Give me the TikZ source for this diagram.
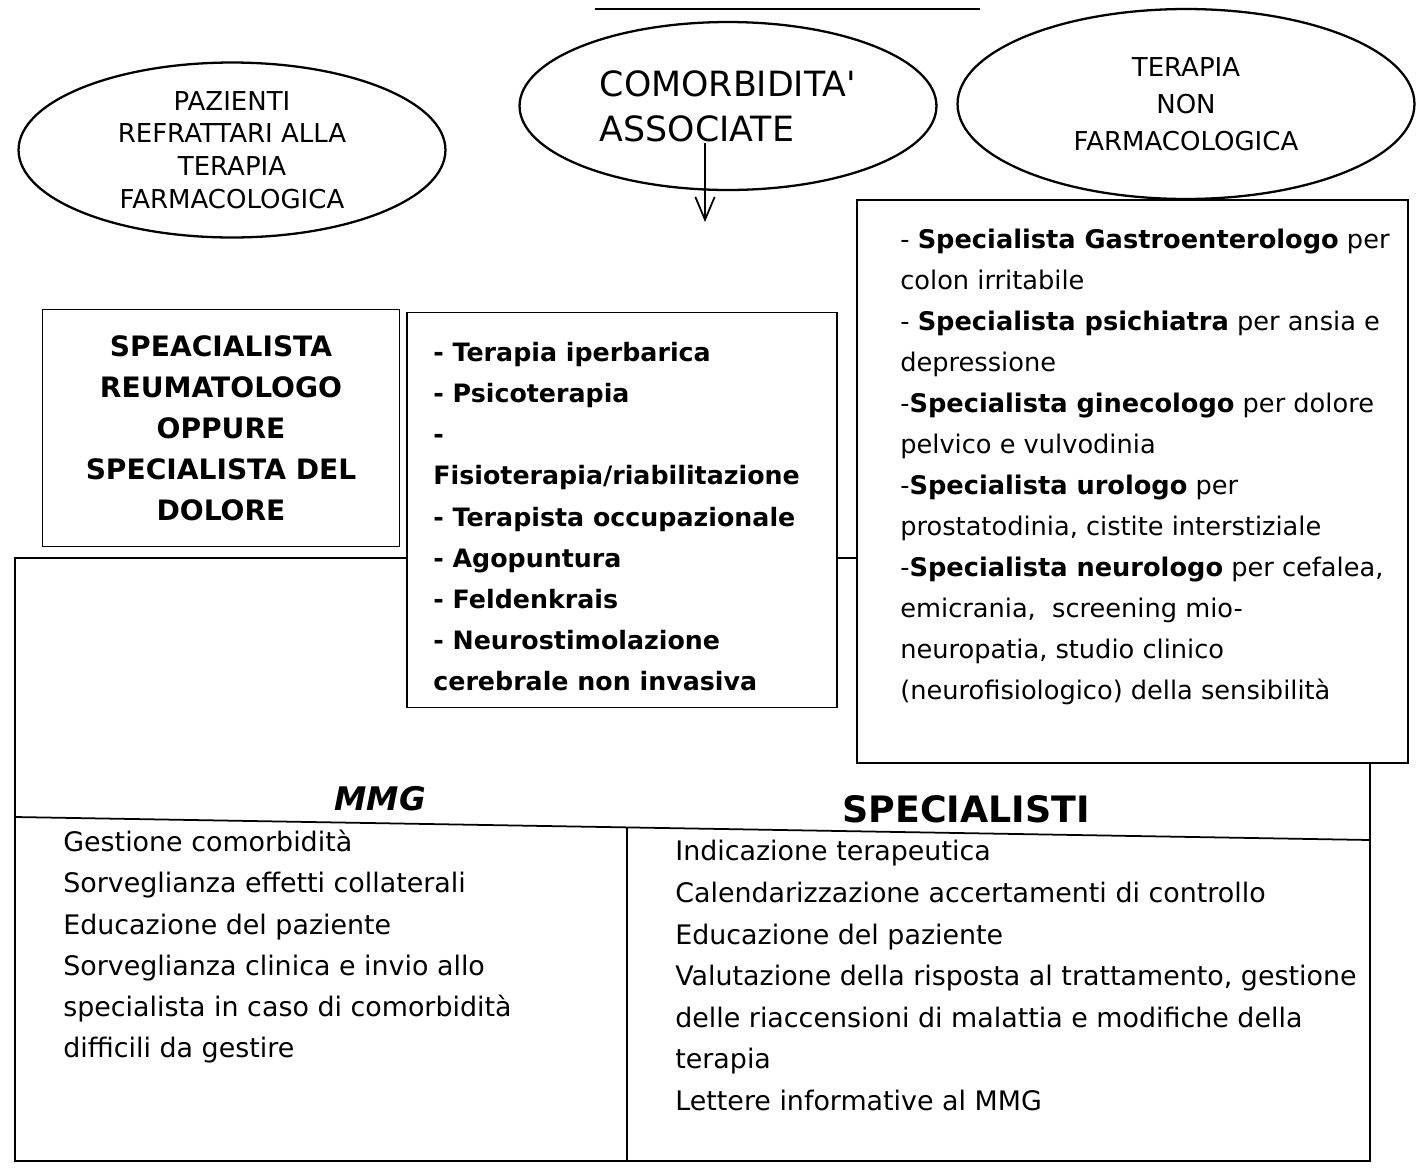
\documentclass[tikz,border=0pt]{standalone}
\usepackage{fontspec}
\setmainfont[Ligatures=TeXOff]{DejaVu Sans}
\usetikzlibrary{shapes.geometric,arrows.meta}

\begin{document}
\begin{tikzpicture}[x=0.02cm,y=-0.02cm,
  bubble/.style={draw,ellipse,line width=1.3pt,inner sep=0pt,align=center},
  box/.style={draw,line width=1pt,fill=white,inner sep=0pt},
  list/.style={align=left,anchor=north west,inner sep=0pt,
    font=\fontsize{15.3}{23.4}\selectfont}]
\useasboundingbox (0,0) rectangle (1420,1167);
\draw[line width=1.6pt] (595,9) -- (980,9);
% bottom frame first, the boxes sit on it
\node[draw,line width=1pt,minimum width=27.1cm,minimum height=12.06cm] (frame) at (692.5,859.5) {};
\draw[line width=1pt] (15,817) -- (1370,840);
\draw[line width=1pt] (627,828) -- (627,1161);
\node[font=\bfseries\itshape\fontsize{18.5}{24}\selectfont] (mmg) at (380,799) {MMG};
\node[font=\bfseries\fontsize{20.7}{24}\selectfont] (spec) at (966,809) {SPECIALISTI};
\node[list] (mmgtxt) at (63,830) {Gestione comorbidità\\
  Sorveglianza effetti collaterali\\
  Educazione del paziente\\
  Sorveglianza clinica e invio allo\\
  specialista in caso di comorbidità\\
  difficili da gestire};
\node[list,font=\fontsize{15.3}{23.7}\selectfont] (spectxt) at (675,840) {Indicazione terapeutica\\
  Calendarizzazione accertamenti di controllo\\
  Educazione del paziente\\
  Valutazione della risposta al trattamento, gestione\\
  delle riaccensioni di malattia e modifiche della\\
  terapia\\
  Lettere informative al MMG};
% ellipses on top
\node[bubble,minimum width=8.54cm,minimum height=3.5cm,
  font=\fontsize{14.8}{18.7}\selectfont] (refr) at (232,150)
  {PAZIENTI\\REFRATTARI ALLA\\TERAPIA\\FARMACOLOGICA};
\node[bubble,minimum width=8.34cm,minimum height=3.36cm,align=left,
  font=\fontsize{19.8}{25.5}\selectfont] (comorb) at (728,106)
  {COMORBIDITA'\\ASSOCIATE};
\node[bubble,minimum width=9.14cm,minimum height=3.8cm,
  font=\fontsize{14.8}{21}\selectfont] (nonfarm) at (1186,104)
  {TERAPIA\\NON\\FARMACOLOGICA};
\coordinate (arrtop) at (705,143);
\coordinate (arrtip) at (705,222);
\draw[line width=1.6pt,-{Straight Barb[length=13pt,width=11pt,line width=1pt]}] (arrtop) -- (arrtip);
% boxes
\node[box,minimum width=7.14cm,minimum height=4.74cm,align=center,
  font=\bfseries\fontsize{16}{23.3}\selectfont] (reuma) at (221,428)
  {SPEACIALISTA\\REUMATOLOGO\\OPPURE\\SPECIALISTA DEL\\DOLORE};
\node[box,minimum width=8.6cm,minimum height=7.9cm] (terbox) at (622,510) {};
\node[list,font=\bfseries\fontsize{14.4}{23.4}\selectfont] (tertxt) at (433,342)
  {- Terapia iperbarica\\
   - Psicoterapia\\
   -\\
   Fisioterapia/riabilitazione\\
   - Terapista occupazionale\\
   - Agopuntura\\
   - Feldenkrais\\
   - Neurostimolazione\\
   cerebrale non invasiva};
\node[box,minimum width=11.02cm,minimum height=11.26cm] (specbox) at (1132.5,481.5) {};
\node[list,font=\fontsize{14.6}{23.3}\selectfont] (specboxtxt) at (900,229)
  {- \textbf{Specialista Gastroenterologo} per\\
   colon irritabile\\
   - \textbf{Specialista psichiatra} per ansia e\\
   depressione\\
   -\textbf{Specialista ginecologo} per dolore\\
   pelvico e vulvodinia\\
   -\textbf{Specialista urologo} per\\
   prostatodinia, cistite interstiziale\\
   -\textbf{Specialista neurologo} per cefalea,\\
   emicrania,\ \ screening mio-\\
   neuropatia, studio clinico\\
   (neurofisiologico) della sensibilità};
\end{tikzpicture}
\end{document}
